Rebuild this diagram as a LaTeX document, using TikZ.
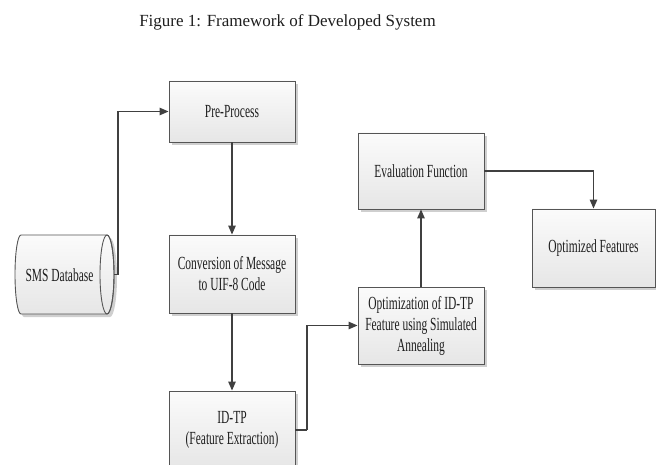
\documentclass[tikz,border=0pt]{standalone}
\usepackage{fontspec}
\setmainfont{Liberation Serif}
\newfontfamily\boxfont[FakeStretch=0.62]{Liberation Serif}
\usetikzlibrary{arrows.meta,shadows}
\definecolor{edgegray}{HTML}{555555}
\definecolor{linegray}{HTML}{404040}
\definecolor{topfill}{HTML}{FBFBFB}
\definecolor{botfill}{HTML}{E6E6E6}
\definecolor{shadowgray}{HTML}{CFCFCF}
\definecolor{txt}{HTML}{1E1E1E}
\tikzset{
  procbox/.style={draw=edgegray, line width=0.9pt, top color=topfill, bottom color=botfill,
    drop shadow={shadow xshift=3pt, shadow yshift=-3pt, fill=shadowgray, opacity=1},
    minimum width=126pt, align=center, inner sep=2pt,
    font=\boxfont\fontsize{18.5}{21}\selectfont, text=txt},
  conn/.style={draw=linegray, line width=1.3pt, -{Triangle[length=9pt,width=7.5pt]}},
  plainconn/.style={draw=linegray, line width=1.3pt},
}
\begin{document}
\begin{tikzpicture}[x=1pt,y=-1pt]
\useasboundingbox (0,0) rectangle (656,465);
\clip (0,0) rectangle (656,465);
\node[font=\fontsize{17}{20}\selectfont, text=txt, anchor=base] (title) at (287.5,26.5) {Figure 1: Framework of Developed System};

% cylinder (SMS Database)
\fill[shadowgray] (24,238) -- (110,238) arc[start angle=90,end angle=-90,x radius=7pt,y radius=39.5pt] -- (24,317) arc[start angle=270,end angle=90,x radius=6pt,y radius=39.5pt] -- cycle;
\path[top color=topfill, bottom color=botfill, draw=edgegray, line width=0.9pt]
  (21,235) -- (107,235) arc[start angle=90,end angle=-90,x radius=7pt,y radius=39.5pt]
  -- (21,314) arc[start angle=270,end angle=90,x radius=6pt,y radius=39.5pt] -- cycle;
\draw[edgegray, line width=0.9pt] (107,274.5) ellipse[x radius=7pt, y radius=39.5pt];
\node[minimum width=99pt, minimum height=79pt, inner sep=0pt] (db) at (64.5,274.5) {};
\node[font=\boxfont\fontsize{18.5}{21}\selectfont, text=txt] (dblabel) at (59.5,275) {SMS Database};

\node[procbox, minimum height=61pt] (pre) at (232,111.5) {Pre-Process};
\node[procbox, minimum height=78pt] (conv) at (232,274) {Conversion of Message\\to UIF-8 Code};
\node[procbox, minimum height=78pt] (idtp) at (232,430) {ID-TP\\(Feature Extraction)};
\node[procbox, minimum height=77pt] (opt) at (421,325.5) {Optimization of ID-TP\\Feature using Simulated\\Annealing};
\node[procbox, minimum height=76pt] (eval) at (421,171) {Evaluation Function};
\node[procbox, minimum width=123pt, minimum height=78pt] (optf) at (593.5,248) {Optimized Features};

\coordinate (j1) at (118,274.5);
\coordinate (j2) at (307,430);
\draw[plainconn] (db.east) -- (j1);
\draw[conn] (j1) |- (pre.west);
\draw[conn] (pre.south) -- (conv.north);
\draw[conn] (conv.south) -- (idtp.north);
\draw[plainconn] (idtp.east) -- (j2);
\draw[conn] (j2) |- (opt.west);
\draw[conn] (opt.north) -- (eval.south);
\draw[conn] (eval.east) -| (optf.north);
\end{tikzpicture}
\end{document}
